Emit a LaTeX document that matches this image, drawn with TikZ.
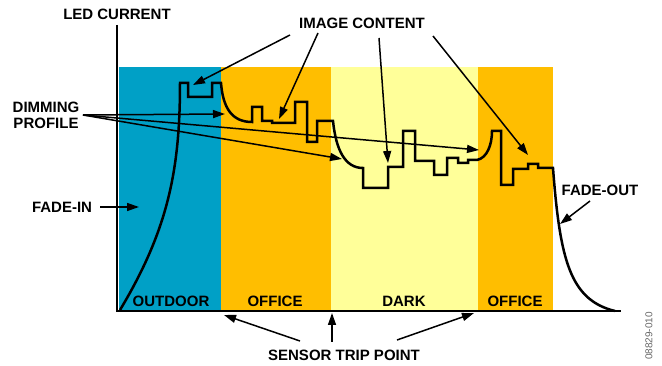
\documentclass[tikz,border=0pt]{standalone}
\usepackage{fontspec}
\setmainfont{Liberation Sans}
\usetikzlibrary{arrows.meta}
\definecolor{bandblue}{RGB}{0,160,198}
\definecolor{bandorange}{RGB}{255,190,0}
\definecolor{bandyellow}{RGB}{255,255,153}
\begin{document}
\begin{tikzpicture}[x=1pt,y=-1pt,
  lbl/.style={font=\fontsize{15}{16}\selectfont\bfseries, inner sep=0pt, align=center},
  arr/.style={line width=1.5pt, -{Triangle[length=12pt,width=8pt]}},
  prof/.style={line width=2.5pt, line join=miter},
  axisline/.style={line width=2pt}]
\useasboundingbox (0,0) rectangle (662,366);
% bands
\fill[bandblue] (119,67) rectangle (221,311);
\fill[bandorange] (221,67) rectangle (331,311);
\fill[bandyellow] (331,67) rectangle (478,311);
\fill[bandorange] (478,67) rectangle (553,311);
% axes
\coordinate (ytop) at (117,25);
\coordinate (orig) at (117,311);
\coordinate (xend) at (621,311);
\draw[axisline] (ytop) -- (orig) -- (xend);
% profile
\draw[prof] (120,310) .. controls (168,230) and (180,170) .. (180,83) -- (188,83) -- (188,97) -- (212,97) -- (212,83) -- (221,83)
  .. controls (223,108) and (232,122) .. (252,122) -- (252,107) -- (262,107) -- (262,121) -- (272,121) -- (272,123) -- (295,123)
  -- (295,102) -- (307,102) -- (307,142) -- (317,142) -- (317,121) -- (333,121)
  .. controls (336,150) and (345,168) .. (363,168) -- (363,188) -- (388,188) -- (388,167) -- (403,167) -- (403,131) -- (415,131)
  -- (415,161) -- (434,161) -- (434,175) -- (447,175) -- (447,158) -- (458,158) -- (458,163) -- (468,163) -- (468,160) -- (477,160)
  .. controls (487,158) and (492,145) .. (492,131) -- (501,131) -- (501,185) -- (513,185) -- (513,169) -- (528,169) -- (528,164)
  -- (538,164) -- (538,168) -- (553,168) .. controls (560,260) and (570,300) .. (615,311);
% labels
\node[lbl] (led) at (117,14) {LED CURRENT};
\node[lbl] (img) at (362,23) {IMAGE CONTENT};
\node[lbl] (dim) at (46,115) {DIMMING\\PROFILE};
\node[lbl] (fin) at (62,207) {FADE-IN};
\node[lbl] (fout) at (600,190) {FADE-OUT};
\node[lbl] (sens) at (344,355) {SENSOR TRIP POINT};
\node[lbl] (out) at (171,301) {OUTDOOR};
\node[lbl] (off1) at (275,301) {OFFICE};
\node[lbl] (dark) at (404,301) {DARK};
\node[lbl] (off2) at (515,301) {OFFICE};
\node[font=\fontsize{10}{10}\selectfont, text=black!60, rotate=90, inner sep=0pt] (code) at (649,336) {08829-010};
% image content arrows
\coordinate (i1s) at (290,35); \coordinate (i1e) at (193,85);
\coordinate (i2s) at (318,33); \coordinate (i2e) at (279,119);
\coordinate (i3s) at (379,38); \coordinate (i3e) at (388,163);
\coordinate (i4s) at (433,36); \coordinate (i4e) at (528,155);
\draw[arr] (i1s) -- (i1e);
\draw[arr] (i2s) -- (i2e);
\draw[arr] (i3s) -- (i3e);
\draw[arr] (i4s) -- (i4e);
% dimming arrows
\coordinate (ds) at (83,115);
\coordinate (d1) at (225,114);
\coordinate (d2) at (479,150);
\coordinate (d3) at (342,159);
\draw[arr] (ds) -- (d1);
\draw[arr] (ds) -- (d2);
\draw[arr] (ds) -- (d3);
% fade arrows
\coordinate (fis) at (100,207); \coordinate (fie) at (139,207);
\draw[arr] (fis) -- (fie);
\coordinate (fos) at (590,201); \coordinate (foe) at (560,224);
\draw[arr] (fos) -- (foe);
% sensor arrows
\coordinate (s1s) at (300,341); \coordinate (s1e) at (224,315);
\coordinate (s2s) at (332,342); \coordinate (s2e) at (332,313);
\coordinate (s3s) at (397,340); \coordinate (s3e) at (474,313);
\draw[arr] (s1s) -- (s1e);
\draw[arr] (s2s) -- (s2e);
\draw[arr] (s3s) -- (s3e);
\end{tikzpicture}
\end{document}
